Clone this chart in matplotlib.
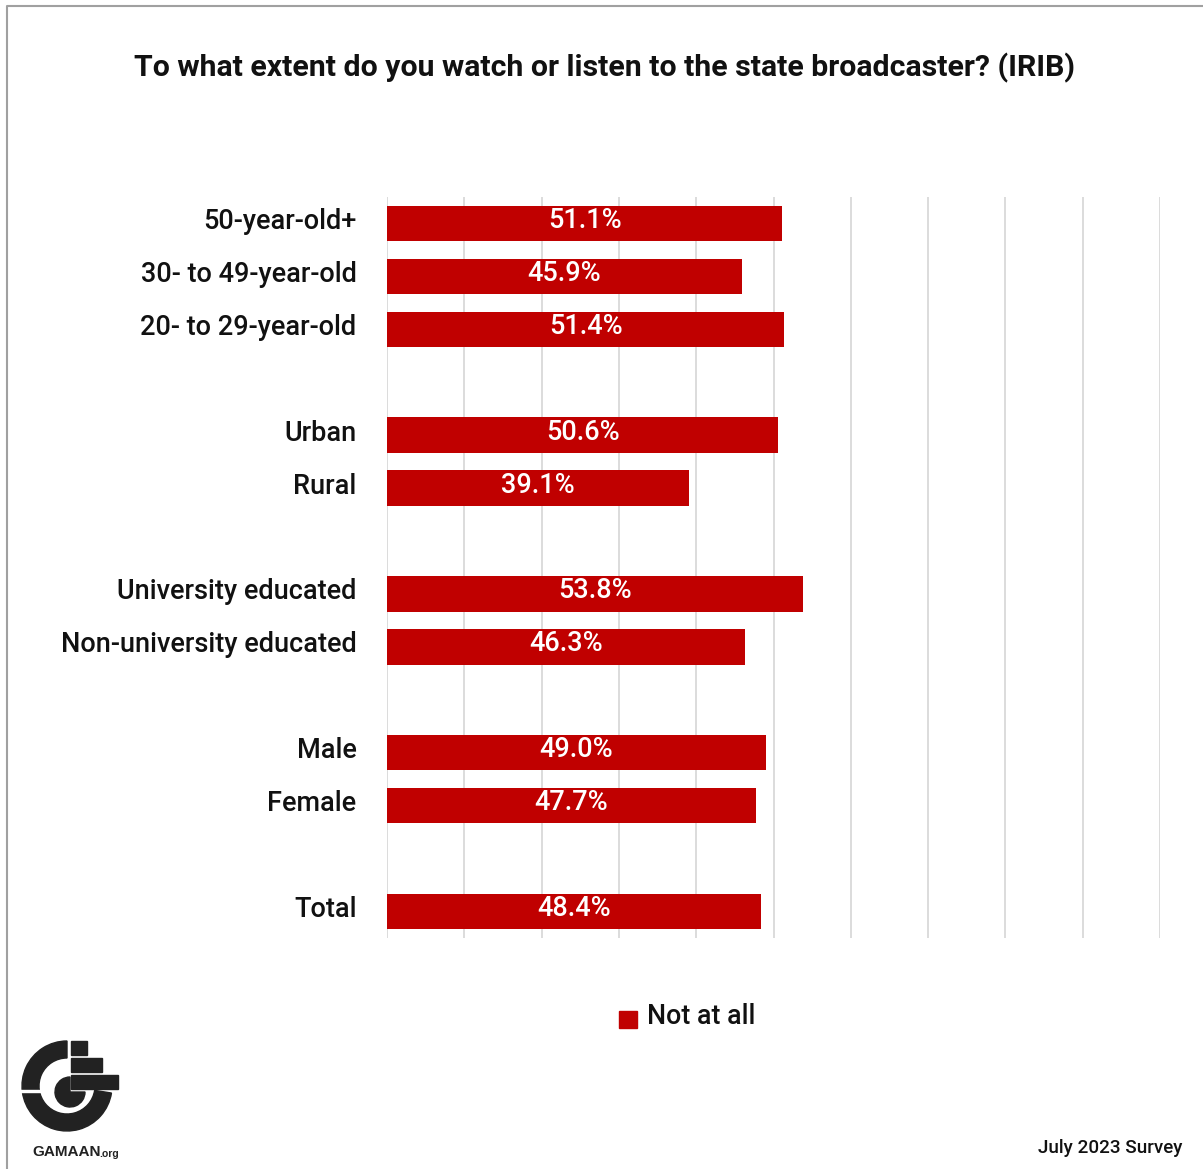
import matplotlib
matplotlib.use('Agg')
import matplotlib.pyplot as plt
import matplotlib.transforms as mtransforms
from matplotlib.patches import Rectangle, Wedge
import numpy as np

plt.rcParams['font.family'] = ['Roboto', 'DejaVu Sans']

# groups of rows, top to bottom; an empty row separates each group
groups = [
    ['50-year-old+', '30- to 49-year-old', '20- to 29-year-old'],
    ['Urban', 'Rural'],
    ['University educated', 'Non-university educated'],
    ['Male', 'Female'],
    ['Total'],
]
values = [
    [51.1, 45.9, 51.4],
    [50.6, 39.1],
    [53.8, 46.3],
    [49.0, 47.7],
    [48.4],
]
series_name = 'Not at all'
title = 'To what extent do you watch or listen to the state broadcaster? (IRIB)'
footer = 'July 2023 Survey'

RED = '#C00000'
INK = '#111111'
W, H = 1203, 1169

fig = plt.figure(figsize=(W / 100, H / 100), dpi=100)

# slot positions: one slot per row plus a gap slot between groups
labels, vals, pos = [], [], []
slot = 0
for g, v in zip(groups, values):
    for name, val in zip(g, v):
        labels.append(name)
        vals.append(val)
        pos.append(slot)
        slot += 1
    slot += 1
n_slots = slot - 1

ax = fig.add_axes([387 / W, 1 - 938 / H, (1160 - 387) / W, (938 - 197) / H])
ax.barh(pos, vals, height=0.67, color=RED, zorder=2)
lift = mtransforms.ScaledTranslation(0, 3 / 100, fig.dpi_scale_trans)
for p, v in zip(pos, vals):
    ax.text(v / 2, p, f'{v:.1f}%', ha='center', va='center', color='white',
            fontsize=19.5, fontweight='medium', zorder=3,
            transform=ax.transData + lift)

ax.set_xlim(0, 100)
ax.set_ylim(n_slots - 0.5, -0.5)
ax.set_xticks(np.arange(0, 101, 10))
ax.xaxis.grid(True, color='#d9d9d9', linewidth=1.3, zorder=0)
ax.tick_params(axis='x', length=0, labelbottom=False)
ax.set_yticks(pos)
ax.set_yticklabels(labels, fontsize=19.5, fontweight='medium', color=INK)
ax.tick_params(axis='y', length=0, pad=22)
up = mtransforms.ScaledTranslation(0, 5 / 100, fig.dpi_scale_trans)
for t in ax.get_yticklabels():
    t.set_transform(t.get_transform() + up)
for s in ax.spines.values():
    s.set_visible(False)

# overlays in pixel coordinates for frame, titles, legend and logo
ov = fig.add_axes([0, 0, 1, 1], zorder=-1)
ov.set_xlim(0, W)
ov.set_ylim(H, 0)
ov.axis('off')
ov2 = fig.add_axes([0, 0, 1, 1], zorder=5)
ov2.set_xlim(0, W)
ov2.set_ylim(H, 0)
ov2.axis('off')
ov2.patch.set_alpha(0)

ov.plot([7, 7, W + 5], [H + 5, 6, 6], color='#a0a0a0', linewidth=1.5)
ov2.text(588, -4, 'g', ha='center', va='baseline', fontsize=14, color='#222222')

ov2.text(604, 68, title, ha='center', va='center', fontsize=21.8,
         fontweight='semibold', color=INK)

# legend
ov2.add_patch(Rectangle((619, 1011), 18, 17, color=RED))
ov2.text(647, 1016, series_name, ha='left', va='center', fontsize=19.3,
         fontweight='medium', color=INK)

ov2.text(1182, 1148, footer, ha='right', va='center', fontsize=13.6,
         fontweight='medium', color=INK)

# GAMAAN logo (y axis runs downward, so wedge angles are mirrored)
LOGO = '#222222'
ov2.add_patch(Wedge((67, 1086), 45, 9, 270, width=17, color=LOGO))
ov2.add_patch(Rectangle((18, 1090), 24, 2, color='white'))
ov2.add_patch(Wedge((70, 1092), 15, 0, 270, color=LOGO))
ov2.add_patch(Rectangle((71, 1041), 16, 14, color=LOGO))
ov2.add_patch(Rectangle((71, 1058), 31, 14, color=LOGO))
ov2.add_patch(Rectangle((71, 1075), 47, 14, color=LOGO))
ov2.text(32, 1152, 'GAMAAN', ha='left', va='center', fontsize=11,
         fontweight='bold', color=LOGO, family='Liberation Sans')
ov2.text(99, 1154, '.org', ha='left', va='center', fontsize=7.5,
         fontweight='bold', color=LOGO, family='Liberation Sans')

fig.savefig('out.png', dpi=100, facecolor='white')
